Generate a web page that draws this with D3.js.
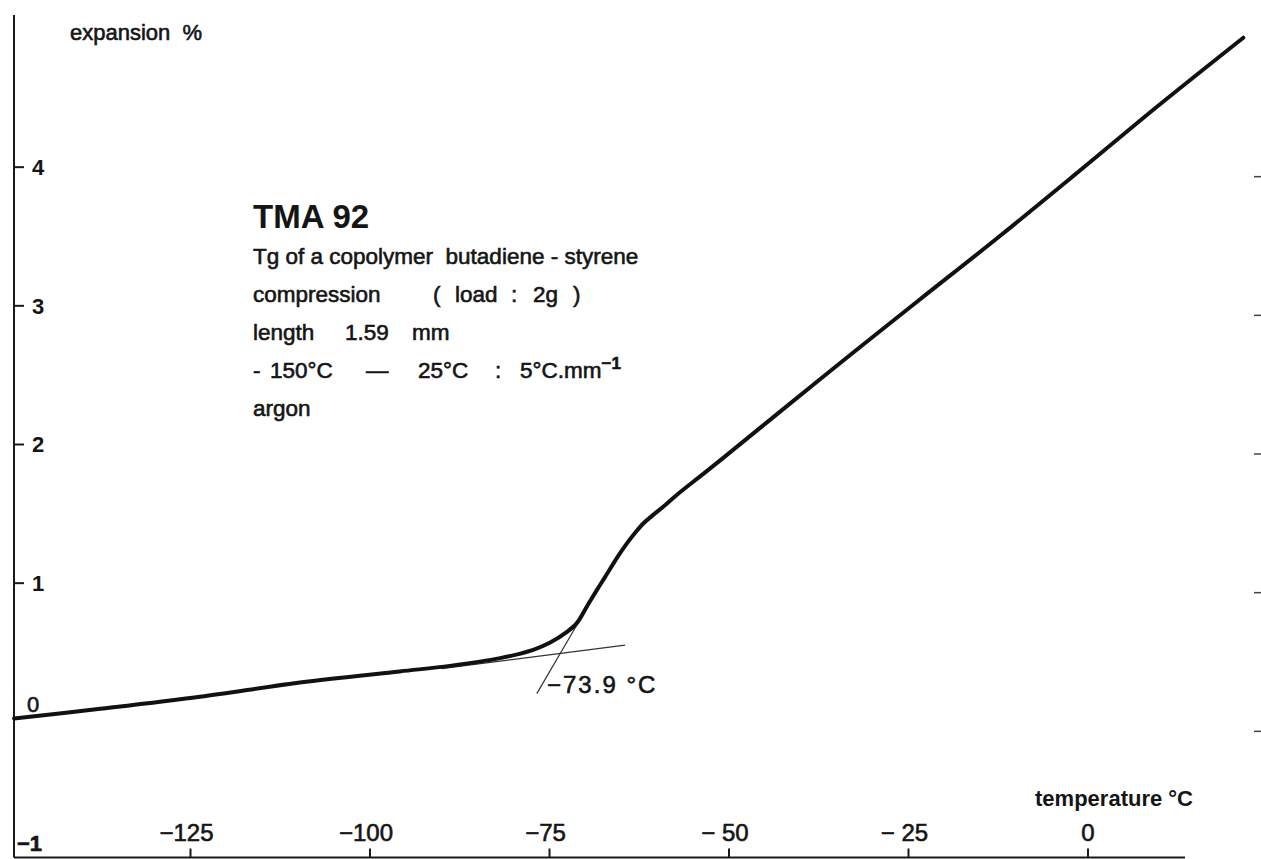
<!DOCTYPE html>
<html>
<head>
<meta charset="utf-8">
<script src="https://cdn.jsdelivr.net/npm/d3@7"></script>
<style>
  html, body { margin: 0; padding: 0; background: #fff; }
  svg { display: block; }
  text { font-family: "Liberation Sans", Arial, Helvetica, sans-serif; fill: #151515; }
  .med { stroke: #151515; stroke-width: 0.6px; }
</style>
</head>
<body>
<svg id="chart" width="1261" height="859"></svg>
<script>
// ---- data ----
const temperature = [-149.5, -137.5, -123.6, -109.7, -95.8, -88.8, -81.8, -77.2, -74.9, -72.5, -71.1, -69.7, -68.3, -67.2, -65.4, -64.2, -63.0, -61.8, -60.7, -58.8, -56.8, -54.0, -51.2, -42.9, -33.1, -23.4, -12.2, -1.1, 10.1, 21.7];
const expansion   = [0.02, 0.09, 0.177, 0.28, 0.36, 0.40, 0.456, 0.516, 0.566, 0.645, 0.71, 0.83, 0.95, 1.04, 1.19, 1.28, 1.36, 1.43, 1.48, 1.56, 1.65, 1.765, 1.88, 2.23, 2.64, 3.04, 3.50, 3.97, 4.45, 4.93];

// tangent construction lines for Tg
const glassTangentT = [-90, -64.4];
const glassTangentE = [0.38, 0.55];
const transTangentT = [-76.7, -68.8];
const transTangentE = [0.2, 0.9];

const xTicks = [-125, -100, -75, -50, -25, 0];
const xTickLabels = ["\u2212125", "\u2212100", "\u221275", "\u2212 50", "\u2212 25", "0"];
const yTicks = [4, 3, 2, 1];
const yTickLabels = ["4", "3", "2", "1"];
const yExtraTicks = [0, -1];
const yExtraLabels = ["0", "\u22121"];
const rightTicks = [4, 3, 2, 1, 0];

const tgLabel = "\u221273.9 \u00B0C";
const infoTitle = "TMA 92";

// ---- scales ----
const svg = d3.select("#chart");
const x = d3.scaleLinear().domain([-150, 25]).range([10.5, 10.5 + 175 * 7.18]);
const y = d3.scaleLinear().domain([-1, 5]).range([860, 28]);

const axisX = 14;      // left axis position
const axisY = 857.5;   // bottom axis position

// ---- axes lines ----
svg.append("line")
  .attr("x1", axisX).attr("x2", axisX)
  .attr("y1", 15).attr("y2", axisY)
  .attr("stroke", "#1a1a1a").attr("stroke-width", 2);

svg.append("line")
  .attr("x1", axisX).attr("x2", 1185)
  .attr("y1", axisY).attr("y2", axisY)
  .attr("stroke", "#1a1a1a").attr("stroke-width", 2);

// left axis ticks
const yAxis = d3.axisRight(y).tickValues(yTicks).tickSize(10).tickPadding(8)
  .tickFormat((d, i) => yTickLabels[i]);
const gy = svg.append("g").attr("transform", `translate(${axisX},0)`).call(yAxis);
gy.select(".domain").remove();
gy.selectAll(".tick line").attr("stroke", "#1a1a1a").attr("stroke-width", 2);
gy.selectAll(".tick text")
  .attr("font-family", "Liberation Sans, Arial, sans-serif")
  .attr("font-size", 22).attr("font-weight", "bold").attr("fill", "#151515")
  .attr("dy", "0.36em");

// 0 and -1 labels (no tick marks)
svg.append("g").selectAll("text")
  .data(yExtraTicks)
  .join("text")
  .attr("class", "med")
  .attr("x", (d, i) => i === 0 ? 27 : 17)
  .attr("y", d => y(d) - 9)
  .attr("font-size", 22)
  .attr("font-weight", (d, i) => i === 0 ? "normal" : "bold")
  .text((d, i) => yExtraLabels[i]);

// bottom axis ticks
const xAxis = d3.axisTop(x).tickValues(xTicks).tickSize(9).tickPadding(8)
  .tickFormat((d, i) => xTickLabels[i]);
const gx = svg.append("g").attr("transform", `translate(0,${axisY})`).call(xAxis);
gx.select(".domain").remove();
gx.selectAll(".tick line").attr("stroke", "#1a1a1a").attr("stroke-width", 2);
gx.selectAll(".tick text")
  .attr("class", "med")
  .attr("font-family", "Liberation Sans, Arial, sans-serif")
  .attr("font-size", 24).attr("font-weight", "normal").attr("fill", "#151515")
  .attr("dx", (d) => d < 0 ? -4 : 0);

// faint right-edge ticks (scan tilt, slightly lower)
svg.append("g").selectAll("line")
  .data(rightTicks)
  .join("line")
  .attr("x1", 1254).attr("x2", 1261)
  .attr("y1", d => y(d) + 10).attr("y2", d => y(d) + 10)
  .attr("stroke", "#444").attr("stroke-width", 1.5);

// ---- curve ----
const pts = temperature.map((t, i) => [t, expansion[i]]);
const line = d3.line().x(d => x(d[0])).y(d => y(d[1])).curve(d3.curveCatmullRom.alpha(0.5));

// tangent lines
const tl = d3.line().x(d => x(d[0])).y(d => y(d[1]));
svg.append("path")
  .attr("d", tl(glassTangentT.map((t, i) => [t, glassTangentE[i]])))
  .attr("fill", "none").attr("stroke", "#333").attr("stroke-width", 1.2);
svg.append("path")
  .attr("d", tl(transTangentT.map((t, i) => [t, transTangentE[i]])))
  .attr("fill", "none").attr("stroke", "#333").attr("stroke-width", 1.2);

svg.append("path")
  .attr("d", line(pts))
  .attr("fill", "none").attr("stroke", "#111").attr("stroke-width", 4)
  .attr("stroke-linecap", "round").attr("stroke-linejoin", "round");

// ---- titles / labels ----
svg.append("text").attr("class", "med").attr("x", 70).attr("y", 40).attr("font-size", 22)
  .style("white-space", "pre")
  .text("expansion  %");

svg.append("text").attr("x", 1193).attr("y", 806).attr("font-size", 22)
  .attr("font-weight", "bold").attr("text-anchor", "end")
  .text("temperature \u00B0C");

svg.append("text").attr("class", "med").attr("x", 547).attr("y", 693).attr("font-size", 24)
  .attr("letter-spacing", 2)
  .text(tgLabel);

// info block
const info = svg.append("g");
info.append("text").attr("x", 253).attr("y", 228).attr("font-size", 33)
  .attr("font-weight", "bold").text(infoTitle);

const l1 = info.append("text").attr("class", "med").attr("x", 253).attr("y", 264).attr("font-size", 22.5)
  .style("white-space", "pre");
l1.text("Tg of a copolymer  butadiene - styrene");

const l2 = info.append("text").attr("class", "med").attr("y", 302).attr("font-size", 22.5);
l2.append("tspan").attr("x", 253).text("compression");
l2.append("tspan").attr("x", 433).text("(");
l2.append("tspan").attr("x", 455).text("load");
l2.append("tspan").attr("x", 511).text(":");
l2.append("tspan").attr("x", 533).text("2g");
l2.append("tspan").attr("x", 573).text(")");

const l3 = info.append("text").attr("class", "med").attr("y", 340).attr("font-size", 22.5);
l3.append("tspan").attr("x", 253).text("length");
l3.append("tspan").attr("x", 345).text("1.59");
l3.append("tspan").attr("x", 412).text("mm");

const l4 = info.append("text").attr("class", "med").attr("y", 378).attr("font-size", 22.5);
l4.append("tspan").attr("x", 253).text("-");
l4.append("tspan").attr("x", 270).text("150\u00B0C");
l4.append("tspan").attr("x", 366).text("\u2014");
l4.append("tspan").attr("x", 418).text("25\u00B0C");
l4.append("tspan").attr("x", 495).text(":");
l4.append("tspan").attr("x", 520).text("5\u00B0C.mm");
l4.append("tspan").attr("dy", -9).attr("font-size", 17).attr("font-weight", "bold").text("\u22121");

info.append("text").attr("class", "med").attr("x", 253).attr("y", 416).attr("font-size", 22.5).text("argon");
</script>
</body>
</html>
